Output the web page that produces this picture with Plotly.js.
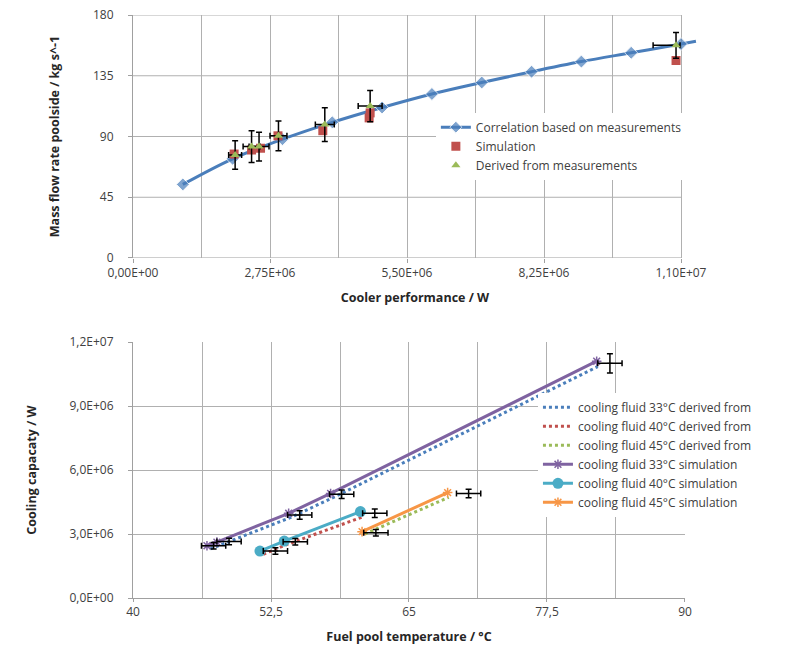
<!DOCTYPE html>
<html><head><meta charset="utf-8">
<script src="https://cdn.plot.ly/plotly-3.0.1.min.js"></script>
<style>html,body{margin:0;padding:0;background:#fff}#chart{width:785px;height:654px}</style>
</head><body><div id="chart"></div>
<script>
// ---------- Top chart data ----------
const corrX = [1000000,2000000,3000000,4000000,5000000,6000000,7000000,8000000,9000000,10000000,11000000,11300000];
const corrY = [54.5,73.5,88,100.5,111.5,121.5,130,138,145.5,152,158.5,160.5];
const simX = [2030000,2380000,2560000,2910000,3810000,4740000,4760000,10900000];
const simY = [77,80,81.3,90.5,94.3,103.8,107.5,146.3];
const derX = [2050000,2380000,2530000,2920000,3850000,4760000,10900000];
const derY = [76.3,82.5,82.5,90.5,98.8,112.5,157.5];
const derYErr = [10.6,11.7,10.6,11,12.5,11.5,9.5];
const derXErrPlus = [130000,170000,200000,170000,190000,240000,80000];
const derXErrMinus = [130000,170000,200000,170000,190000,240000,460000];
const topXTicks = [0,2750000,5500000,8250000,11000000];
const topXLabels = ['0,00E+00','2,75E+06','5,50E+06','8,25E+06','1,10E+07'];
const topYTicks = [0,45,90,135,180];
const topXMax = 11000000;

// ---------- Bottom chart data ----------
const sim33X = [46.7,47.6,54.1,57.9,82.0];
const sim33Y = [2450000,2620000,3970000,4900000,11100000];
const der33X = [47.0,47.9,54.3,58.1,82.1];
const der33Y = [2300000,2480000,3780000,4700000,10850000];
const err33X = [47.3,48.7,55.1,58.9,83.2];
const err33Y = [2450000,2650000,3890000,4860000,11000000];
const err33YE = [150000,150000,200000,200000,450000];
const err33XE = [1.1,1.1,1.1,1.1,1.1];

const sim40X = [51.5,53.7,60.6];
const sim40Y = [2200000,2670000,4050000];
const der40X = [51.8,53.9,60.8];
const der40Y = [2050000,2500000,3800000];
const err40X = [52.9,54.7,61.9];
const err40Y = [2200000,2640000,3970000];
const err40YE = [150000,150000,200000];
const err40XE = [1.1,1.1,1.1];

const sim45X = [60.75,68.5];
const sim45Y = [3110000,4940000];
const der45X = [61.0,68.6];
const der45Y = [3000000,4720000];
const err45X = [62.0,70.4];
const err45Y = [3060000,4900000];
const err45YE = [150000,200000];
const err45XE = [1.1,1.1];

const botXTicks = [40,52.5,65,77.5,90];
const botXLabels = ['40','52,5','65','77,5','90'];
const botYTicks = [0,3000000,6000000,9000000,12000000];
const botYLabels = ['0,0E+00','3,0E+06','6,0E+06','9,0E+06','1,2E+07'];

// ---------- Styling ----------
const FONT = 'Open Sans, Noto Sans, sans-serif';
const GRID = '#b0b0b0';
const AXIS = '#a0a0a0';
const titleFont = {family: FONT, size: 12.5, color: '#262626', weight: 'bold'};
const BLUE = '#4a7ebb', RED = '#c0504d', GREEN = '#9bbb59',
      PURPLE = '#7f63a1', CYAN = '#4bacc6', ORANGE = '#f79646';

const traces = [
  {x: corrX, y: corrY, type: 'scatter', mode: 'lines+markers', name: 'Correlation based on measurements',
   line: {color: BLUE, width: 3, shape: 'spline'},
   marker: {symbol: 'diamond', color: BLUE, size: corrX.map(v => v > topXMax ? 0 : 10)},
   xaxis: 'x', yaxis: 'y', legend: 'legend'},
  {x: simX, y: simY, type: 'scatter', mode: 'markers', name: 'Simulation',
   marker: {symbol: 'square', color: RED, size: 9},
   xaxis: 'x', yaxis: 'y', legend: 'legend'},
  {x: derX, y: derY, type: 'scatter', mode: 'markers', name: 'Derived from measurements',
   marker: {symbol: 'triangle-up', color: GREEN, size: 8},
   error_y: {type: 'data', array: derYErr, color: '#000', thickness: 1.5, width: 3},
   error_x: {type: 'data', symmetric: false, array: derXErrPlus, arrayminus: derXErrMinus, color: '#000', thickness: 1.5, width: 3},
   xaxis: 'x', yaxis: 'y', legend: 'legend'},

  {x: der33X, y: der33Y, type: 'scatter', mode: 'lines', name: 'cooling fluid 33°C derived from',
   line: {color: BLUE, width: 3, dash: 'dot'}, xaxis: 'x2', yaxis: 'y2', legend: 'legend2'},
  {x: der40X, y: der40Y, type: 'scatter', mode: 'lines', name: 'cooling fluid 40°C derived from',
   line: {color: RED, width: 3, dash: 'dot'}, xaxis: 'x2', yaxis: 'y2', legend: 'legend2'},
  {x: der45X, y: der45Y, type: 'scatter', mode: 'lines', name: 'cooling fluid 45°C derived from',
   line: {color: GREEN, width: 3, dash: 'dot'}, xaxis: 'x2', yaxis: 'y2', legend: 'legend2'},
  {x: sim33X, y: sim33Y, type: 'scatter', mode: 'lines+markers', name: 'cooling fluid 33°C simulation',
   line: {color: PURPLE, width: 3}, marker: {symbol: 'asterisk-open', size: 8, color: PURPLE, line: {color: PURPLE, width: 1.5}},
   xaxis: 'x2', yaxis: 'y2', legend: 'legend2'},
  {x: sim40X, y: sim40Y, type: 'scatter', mode: 'lines+markers', name: 'cooling fluid 40°C simulation',
   line: {color: CYAN, width: 3}, marker: {symbol: 'circle', size: 11, color: CYAN},
   xaxis: 'x2', yaxis: 'y2', legend: 'legend2'},
  {x: sim45X, y: sim45Y, type: 'scatter', mode: 'lines+markers', name: 'cooling fluid 45°C simulation',
   line: {color: ORANGE, width: 3}, marker: {symbol: 'asterisk-open', size: 8, color: ORANGE, line: {color: ORANGE, width: 1.5}},
   xaxis: 'x2', yaxis: 'y2', legend: 'legend2'}
];

[[err33X, err33Y, err33XE, err33YE], [err40X, err40Y, err40XE, err40YE], [err45X, err45Y, err45XE, err45YE]].forEach(e => {
  traces.push({x: e[0], y: e[1], type: 'scatter', mode: 'markers', showlegend: false, hoverinfo: 'skip',
    marker: {symbol: 'line-ew-open', size: 4, color: '#000', line: {color: '#000', width: 1}},
    error_x: {type: 'data', array: e[2], color: '#000', thickness: 1.5, width: 3},
    error_y: {type: 'data', array: e[3], color: '#000', thickness: 1.5, width: 3},
    xaxis: 'x2', yaxis: 'y2'});
});

const shapes = [];
topYTicks.slice(1).forEach(v => shapes.push({type: 'line', xref: 'x', yref: 'y', x0: 0, x1: topXMax, y0: v, y1: v,
  line: {color: GRID, width: 1}, layer: 'below'}));
shapes.push({type: 'line', xref: 'x', yref: 'y', x0: 0, x1: topXMax, y0: 0, y1: 0, line: {color: AXIS, width: 1}, layer: 'below'});

const layout = {
  width: 785, height: 654,
  margin: {l: 133, r: 88, t: 15, b: 56},
  paper_bgcolor: '#ffffff', plot_bgcolor: 'rgba(0,0,0,0)',
  font: {family: FONT, size: 12, color: '#404040'},
  showlegend: true,
  xaxis: {domain: [0, 1], anchor: 'y', range: [0, 11321000], tickmode: 'array', tickvals: topXTicks, ticktext: topXLabels,
    showgrid: false, zeroline: false, showline: false, ticks: 'outside', ticklen: 4, tickcolor: AXIS,
    minor: {dtick: 1375000, tick0: 0, showgrid: true, gridcolor: GRID, gridwidth: 1, ticks: ''},
    title: {text: 'Cooler performance / W', font: titleFont, standoff: 12}, fixedrange: true},
  yaxis: {domain: [0.5832, 1], anchor: 'x', range: [0, 180], tickmode: 'array', tickvals: topYTicks,
    showgrid: false, zeroline: false, showline: true, linecolor: AXIS, ticks: 'outside', ticklen: 4, tickcolor: AXIS,
    ticklabelstandoff: 12,
    title: {text: 'Mass flow rate poolside / kg s^-1', font: titleFont, standoff: 30}, fixedrange: true},
  xaxis2: {domain: [0, 0.9787], anchor: 'y2', range: [40, 90], tickmode: 'array', tickvals: botXTicks, ticktext: botXLabels,
    showgrid: true, gridcolor: GRID, zeroline: false, showline: true, linecolor: AXIS, mirror: false,
    ticks: 'outside', ticklen: 3, tickcolor: AXIS,
    minor: {dtick: 6.25, tick0: 40, showgrid: true, gridcolor: GRID, gridwidth: 1, ticks: ''},
    title: {text: 'Fuel pool temperature / °C', font: titleFont, standoff: 12}, fixedrange: true},
  yaxis2: {domain: [0, 0.4391], anchor: 'x2', range: [0, 12000000], tickmode: 'array', tickvals: botYTicks, ticktext: botYLabels,
    showgrid: true, gridcolor: GRID, zeroline: false, showline: true, linecolor: AXIS,
    ticks: 'outside', ticklen: 4, tickcolor: AXIS, ticklabelstandoff: 12,
    title: {text: 'Cooling capacaty / W', font: titleFont, standoff: 30}, fixedrange: true},
  shapes: shapes,
  legend: {x: 0.537, y: 0.775, xanchor: 'left', yanchor: 'middle', bgcolor: '#ffffff', borderwidth: 0,
    font: {family: FONT, size: 12, color: '#404040'}, tracegroupgap: 0},
  legend2: {x: 0.718, y: 0.352, xanchor: 'left', yanchor: 'top', bgcolor: '#ffffff', borderwidth: 0,
    font: {family: FONT, size: 12, color: '#404040'}, tracegroupgap: 0}
};

Plotly.newPlot('chart', traces, layout, {displayModeBar: false, staticPlot: true});
</script>
</body></html>
